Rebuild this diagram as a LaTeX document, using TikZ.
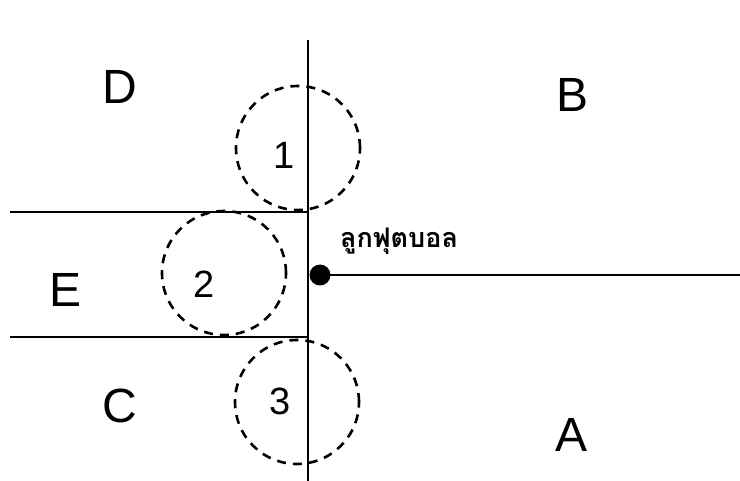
\documentclass[tikz,border=0pt]{standalone}
\usepackage{fontspec}
\setmainfont{Liberation Sans}
\newfontfamily\thaifont[Script=Thai]{Loma}
\begin{document}
\begin{tikzpicture}[x=0.5pt, y=-0.5pt,
  zone/.style={font=\fontsize{24}{28}\selectfont},
  spot/.style={font=\fontsize{19}{22}\selectfont},
  field/.style={line width=1pt},
  area/.style={circle, draw, line width=1.3pt, dash pattern=on 4.5pt off 3.5pt,
    minimum size=62pt, inner sep=0pt}]
  \useasboundingbox (0,0) rectangle (740,481);

  % Field lines
  \coordinate (top) at (308,40);
  \coordinate (bottom) at (308,481);
  \coordinate (upperleft) at (10,212);
  \coordinate (upperright) at (308,212);
  \coordinate (lowerleft) at (10,337);
  \coordinate (lowerright) at (308,337);
  \coordinate (far) at (740,275);
  \draw[field] (top) -- (bottom);
  \draw[field] (upperleft) -- (upperright);
  \draw[field] (lowerleft) -- (lowerright);

  % Ball
  \node[circle, fill=black, inner sep=0pt, minimum size=10.5pt] (ball) at (320,275) {};
  \draw[field] (ball.center) -- (far);
  \node[font=\thaifont\bfseries\fontsize{13.5}{16}\selectfont, anchor=south west] (balltext) at (333,262) {ลูกฟุตบอล};

  % Dashed circles
  \node[area] (c1) at (298,148) {};
  \node[area] (c2) at (224,273) {};
  \node[area] (c3) at (297,402) {};
  \node[spot] (n1) at (284,155) {1};
  \node[spot] (n2) at (204,284) {2};
  \node[spot] (n3) at (280,401) {3};

  % Zones
  \node[zone] (zd) at (120,87) {D};
  \node[zone] (zb) at (573,95) {B};
  \node[zone] (ze) at (66,290) {E};
  \node[zone] (zc) at (120,406) {C};
  \node[zone] (za) at (572,435) {A};
\end{tikzpicture}
\end{document}
